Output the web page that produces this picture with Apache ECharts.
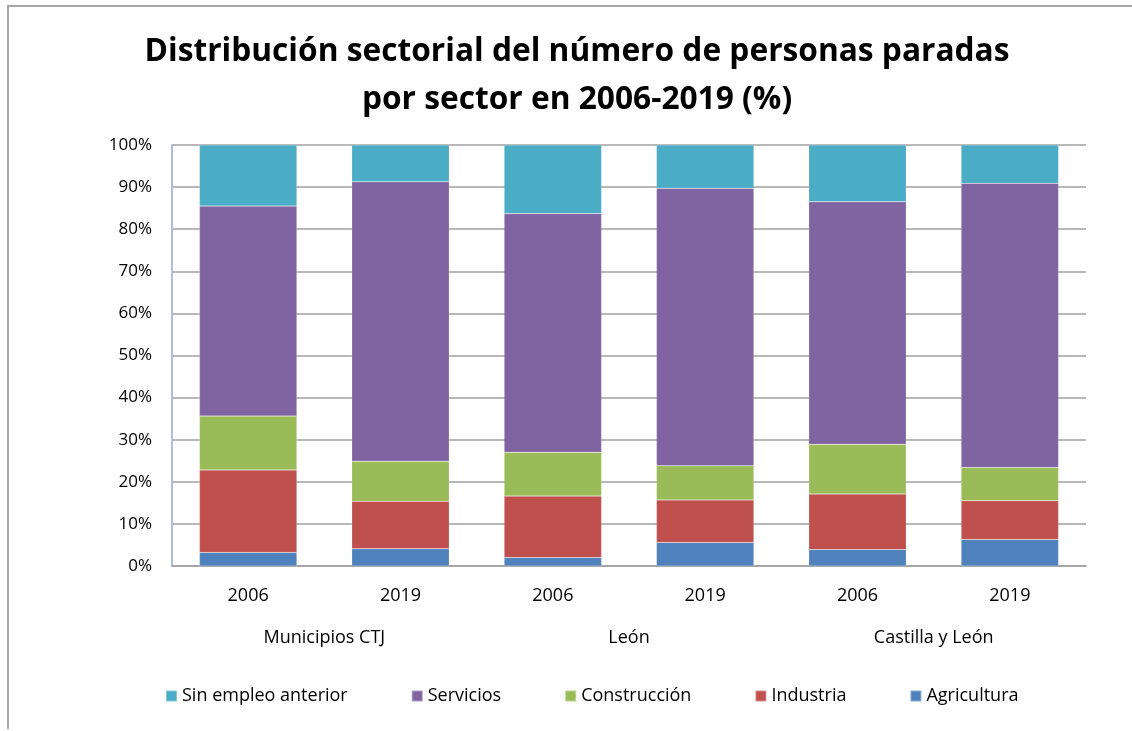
<!DOCTYPE html>
<html>
<head>
<meta charset="utf-8">
<script src="https://cdn.jsdelivr.net/npm/echarts@6/dist/echarts.min.js"></script>
<style>
  html, body { margin: 0; padding: 0; background: #fff; }
  #frame { position: absolute; left: 7px; top: 5px; width: 1130px; height: 724px;
           border-left: 2px solid #a6a6a6; border-top: 2px solid #a6a6a6; box-sizing: border-box; }
  #chart { position: absolute; left: 0; top: 0; width: 1132px; height: 731px; }
</style>
</head>
<body>
<div id="frame"></div>
<div id="chart"></div>
<script>
  // datos (%)
  var years = ['2006', '2019', '2006', '2019', '2006', '2019'];
  var areas = ['Municipios CTJ', 'León', 'Castilla y León'];
  var agricultura = [3.2, 4.1, 2.0, 5.6, 3.9, 6.3];
  var industria = [19.6, 11.3, 14.6, 10.1, 13.2, 9.2];
  var construccion = [12.8, 9.5, 10.4, 8.1, 11.8, 7.9];
  var servicios = [49.9, 66.4, 56.7, 65.9, 57.6, 67.5];
  var sinEmpleo = [14.5, 8.7, 16.3, 10.3, 13.5, 9.1];

  var font = '"Open Sans", "Noto Sans", sans-serif';
  var myChart = echarts.init(document.getElementById('chart'));

  function barSerie(name, data, color) {
    return {
      name: name,
      type: 'bar',
      stack: 'total',
      barWidth: '64%',
      itemStyle: { color: color, borderColor: 'rgba(255,255,255,0.35)', borderWidth: 0.5 },
      data: data
    };
  }

  myChart.setOption({
    animation: false,
    title: {
      text: 'Distribución sectorial del número de personas paradas\npor sector en 2006-2019 (%)',
      left: 572,
      textAlign: 'center',
      top: 23,
      textStyle: { fontFamily: font, fontSize: 31.7, fontWeight: 'bold', color: '#000', lineHeight: 48 }
    },
    grid: { left: 172, right: 46, top: 145, bottom: 165 },
    legend: {
      top: 682,
      left: 160,
      icon: 'rect',
      itemWidth: 11,
      itemHeight: 11,
      itemGap: 63,
      textStyle: { fontFamily: font, fontSize: 18, color: '#000' },
      data: ['Sin empleo anterior', 'Servicios', 'Construcción', 'Industria', 'Agricultura']
    },
    xAxis: [{
      type: 'category',
      data: years,
      axisLine: { lineStyle: { color: '#a0a0a0', width: 1.5 } },
      axisTick: { show: false },
      axisLabel: { margin: 21, fontFamily: font, fontSize: 18, color: '#000' }
    }, {
      type: 'category',
      data: areas,
      position: 'bottom',
      axisLine: { show: false },
      axisTick: { show: false },
      axisLabel: { margin: 63, fontFamily: font, fontSize: 18, color: '#000' }
    }],
    yAxis: {
      type: 'value',
      min: 0,
      max: 100,
      interval: 10,
      axisLine: { show: true, lineStyle: { color: '#a9bfe6', width: 2 } },
      axisTick: { show: false },
      splitLine: { lineStyle: { color: '#a0a0a0', width: 1.5 } },
      axisLabel: { margin: 20, fontFamily: font, fontSize: 17, color: '#000', formatter: '{value}%' }
    },
    series: [
      barSerie('Agricultura', agricultura, '#4F81BD'),
      barSerie('Industria', industria, '#C0504D'),
      barSerie('Construcción', construccion, '#9BBB59'),
      barSerie('Servicios', servicios, '#8064A2'),
      barSerie('Sin empleo anterior', sinEmpleo, '#4BACC6')
    ]
  });
</script>
</body>
</html>
